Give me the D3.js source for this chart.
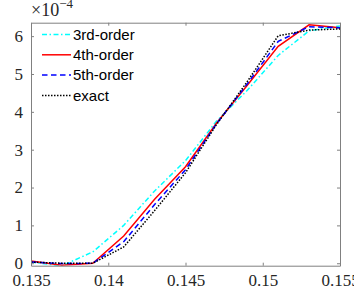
<!DOCTYPE html>
<html>
<head>
<meta charset="utf-8">
<script src="https://cdn.jsdelivr.net/npm/d3@7"></script>
<style>
  body { margin: 0; background: #fff; }
  svg { display: block; }
</style>
</head>
<body>
<div id="chart"></div>
<script>
// data, y values in units of 1e-4
const xValues = [0.135, 0.137, 0.139, 0.141, 0.143, 0.145, 0.147, 0.149, 0.151, 0.153, 0.155];
const thirdOrder = [0.03, -0.07, 0.30, 1.00, 1.91, 2.71, 3.75, 4.57, 5.49, 6.14, 6.27];
const fourthOrder = [0.06, -0.05, 0.00, 0.72, 1.69, 2.55, 3.70, 4.70, 5.73, 6.30, 6.22];
const fifthOrder = [0.03, -0.01, 0.00, 0.57, 1.55, 2.47, 3.68, 4.74, 5.86, 6.25, 6.22];
const exact = [0.03, 0.00, 0.00, 0.43, 1.39, 2.39, 3.66, 4.80, 6.01, 6.16, 6.19];
const seriesNames = ["3rd-order", "4th-order", "5th-order", "exact"];
const xTicks = [0.135, 0.14, 0.145, 0.15, 0.155];
const yTicks = [0, 1, 2, 3, 4, 5, 6];

const WIDTH = 354, HEIGHT = 293;
const margin = { top: 22.7, right: 14, bottom: 27.3, left: 31 };
const innerW = WIDTH - margin.left - margin.right;
const innerH = HEIGHT - margin.top - margin.bottom;

const svg = d3.select("#chart").append("svg")
  .attr("width", WIDTH)
  .attr("height", HEIGHT);

const x = d3.scaleLinear().domain([0.135, 0.155]).range([0, innerW]);
const y = d3.scaleLinear().domain([-0.065, 6.355]).range([innerH, 0]);

const g = svg.append("g").attr("transform", `translate(${margin.left},${margin.top})`);

// series styles (matlab-ish)
const series = [
  { name: seriesNames[0], values: thirdOrder, color: "#00ffff", dash: "5,2.5,1.5,2.5" },
  { name: seriesNames[1], values: fourthOrder, color: "#ff0000", dash: null },
  { name: seriesNames[2], values: fifthOrder, color: "#0000ff", dash: "5.5,3.5" },
  { name: seriesNames[3], values: exact, color: "#000000", dash: "1.5,1.5" }
];

const line = d3.line()
  .x((d, i) => x(xValues[i]))
  .y(d => y(d));

g.append("defs").append("clipPath").attr("id", "clip")
  .append("rect").attr("width", innerW).attr("height", innerH);

const lines = g.append("g").attr("clip-path", "url(#clip)");
series.forEach(s => {
  lines.append("path")
    .datum(s.values)
    .attr("d", line)
    .attr("fill", "none")
    .attr("stroke", s.color)
    .attr("stroke-width", 1.5)
    .attr("stroke-dasharray", s.dash);
});

// axes, ticks pointing inward
const axisColor = "#808080";
const tickFont = "'Liberation Serif', 'DejaVu Serif', serif";

const xAxis = g.append("g").attr("transform", `translate(0,${innerH})`)
  .call(d3.axisBottom(x).tickValues(xTicks).tickSizeInner(-3).tickSizeOuter(0).tickPadding(8)
    .tickFormat(d => d3.format("")(+d.toFixed(3))));
const xTop = g.append("g")
  .call(d3.axisTop(x).tickValues(xTicks).tickSizeInner(-3).tickSizeOuter(0).tickFormat(""));
const yAxis = g.append("g")
  .call(d3.axisLeft(y).tickValues(yTicks).tickSizeInner(-3).tickSizeOuter(0).tickPadding(8)
    .tickFormat(d3.format("d")));
const yRight = g.append("g").attr("transform", `translate(${innerW},0)`)
  .call(d3.axisRight(y).tickValues(yTicks).tickSizeInner(-3).tickSizeOuter(0).tickFormat(""));

[xAxis, xTop, yAxis, yRight].forEach(a => {
  a.select(".domain").attr("stroke", axisColor);
  a.selectAll(".tick line").attr("stroke", axisColor);
  a.selectAll("text")
    .attr("fill", "#262626")
    .style("font-family", tickFont)
    .style("font-size", "17px");
});
xAxis.selectAll("text").attr("dy", "0.71em").attr("y", 8);

// exponent label above the y axis
const expo = svg.append("text")
  .attr("x", 31)
  .attr("y", 16)
  .attr("fill", "#262626")
  .attr("font-family", tickFont)
  .attr("font-size", 18);
expo.append("tspan").attr("font-size", 18).text("\u00d710");
expo.append("tspan").attr("dy", -8).attr("font-size", 13).text("\u22124");

// legend (no box)
const legend = svg.append("g").attr("transform", "translate(42,34.5)");
series.forEach((s, i) => {
  const row = legend.append("g").attr("transform", `translate(0,${i * 20.3})`);
  row.append("line")
    .attr("x1", 0).attr("x2", 29)
    .attr("stroke", s.color)
    .attr("stroke-width", 1.5)
    .attr("stroke-dasharray", s.dash);
  row.append("text")
    .attr("x", 31)
    .attr("dy", "0.35em")
    .style("font-family", "'Liberation Sans', Arial, sans-serif")
    .style("font-size", "15px")
    .attr("fill", "#000")
    .text(s.name);
});
</script>
</body>
</html>
